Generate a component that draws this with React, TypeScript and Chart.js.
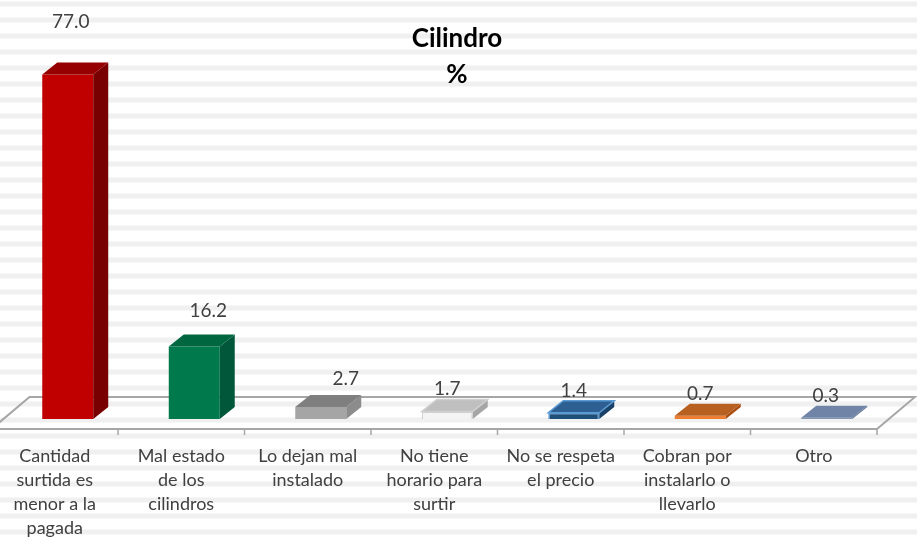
import React, { useEffect, useRef } from "react";
import { Chart, registerables } from "chart.js";

Chart.register(...registerables);

// ---- data ----
const categories: string[][] = [
  ["Cantidad", "surtida es", "menor a la", "pagada"],
  ["Mal estado", "de los", "cilindros"],
  ["Lo dejan mal", "instalado"],
  ["No tiene", "horario para", "surtir"],
  ["No se respeta", "el precio"],
  ["Cobran por", "instalarlo o", "llevarlo"],
  ["Otro"],
];
const values: number[] = [77.0, 16.2, 2.7, 1.7, 1.4, 0.7, 0.3];
const titleLines: string[] = ["Cilindro", "%"];

// ---- styles ----
const frontColors = ["#C00000", "#007A4D", "#A5A5A5", "#F4F4F4", "#1F4E79", "#ED7D31", "#8497B0"];
const topColors = ["#960000", "#006640", "#7F7F7F", "#BFBFBF", "#2E5F93", "#B8601F", "#6F84A6"];
const sideColors = ["#780000", "#00573A", "#8C8C8C", "#A6A6A6", "#1A4168", "#A94B0E", "#5A6E8C"];
const edgeColors = ["", "", "", "#D0D0D0", "#5B9BD5", "", ""];
// label nudges (dx from bar centre, lift of baseline above bar front top)
const labelDx = [3, 14, 25, 0, 0, 0, -1];
const labelLift = [46, 30, 22, 16, 16, 16, 16];

const W = 917;
const H = 538;
const DEPTH_X = 15;
const DEPTH_Y = 12;
const FONT = "Lato, 'Open Sans', sans-serif";

const threeD = {
  id: "threeD",
  beforeDraw(chart: any) {
    const ctx = chart.ctx;
    ctx.save();
    ctx.fillStyle = "#ffffff";
    ctx.fillRect(0, 0, W, H);
    ctx.fillStyle = "#f0f0f0";
    for (let y = 1.5; y < H; y += 16) ctx.fillRect(0, y, W, 5);
    ctx.restore();
  },
  beforeDatasetsDraw(chart: any) {
    const ctx = chart.ctx;
    const { left, right, bottom } = chart.chartArea;
    const fy = bottom + 10;
    const by = bottom - 22;
    const fl = left - 13;
    const fr = right - 13;
    const bl = left + 25;
    const br = right + 25;
    ctx.save();
    ctx.strokeStyle = "#A6A6A6";
    ctx.lineWidth = 2;
    ctx.beginPath();
    ctx.moveTo(fl, fy);
    ctx.lineTo(fr, fy);
    ctx.lineTo(br, by);
    ctx.lineTo(bl, by);
    ctx.closePath();
    ctx.stroke();
    // ticks at category boundaries
    const xs = chart.scales.x;
    const n = categories.length;
    const step = (right - left) / n;
    ctx.lineWidth = 1.5;
    ctx.beginPath();
    for (let i = 0; i <= n; i++) {
      const x = left + i * step - 13;
      ctx.moveTo(x, fy);
      ctx.lineTo(x, fy + 6);
    }
    ctx.stroke();
    // category labels
    ctx.fillStyle = "#404040";
    ctx.font = `18px ${FONT}`;
    ctx.textAlign = "center";
    ctx.textBaseline = "alphabetic";
    categories.forEach((lines, i) => {
      const cx = xs.getPixelForValue(i) - 13;
      lines.forEach((ln, j) => ctx.fillText(ln, cx, 462 + j * 24));
    });
    ctx.restore();
  },
  afterDatasetsDraw(chart: any) {
    const ctx = chart.ctx;
    const meta = chart.getDatasetMeta(0);
    ctx.save();
    meta.data.forEach((bar: any, i: number) => {
      const { x, y, base, width } = bar.getProps(["x", "y", "base", "width"], true);
      const l = x - width / 2;
      const r = x + width / 2;
      // side
      ctx.fillStyle = sideColors[i];
      ctx.beginPath();
      ctx.moveTo(r, y);
      ctx.lineTo(r + DEPTH_X, y - DEPTH_Y);
      ctx.lineTo(r + DEPTH_X, base - DEPTH_Y);
      ctx.lineTo(r, base);
      ctx.closePath();
      ctx.fill();
      // top
      ctx.fillStyle = topColors[i];
      ctx.beginPath();
      ctx.moveTo(l, y);
      ctx.lineTo(r, y);
      ctx.lineTo(r + DEPTH_X, y - DEPTH_Y);
      ctx.lineTo(l + DEPTH_X, y - DEPTH_Y);
      ctx.closePath();
      ctx.fill();
      if (edgeColors[i]) {
        ctx.strokeStyle = edgeColors[i];
        ctx.lineWidth = 1.5;
        ctx.stroke();
      }
    });
    // value labels
    ctx.fillStyle = "#404040";
    ctx.font = `19px ${FONT}`;
    ctx.textAlign = "center";
    ctx.textBaseline = "alphabetic";
    meta.data.forEach((bar: any, i: number) => {
      const { x, y } = bar.getProps(["x", "y"], true);
      ctx.fillText(values[i].toFixed(1), x + labelDx[i], y - labelLift[i]);
    });
    // title
    ctx.fillStyle = "#000000";
    ctx.font = `bold 26px ${FONT}`;
    ctx.fillText(titleLines[0], 457, 47);
    ctx.fillText(titleLines[1], 457, 83);
    ctx.restore();
  },
};

export default function App() {
  const ref = useRef<HTMLCanvasElement | null>(null);
  useEffect(() => {
    document.body.style.margin = "0";
    const canvas = ref.current;
    if (!canvas) return;
    const chart = new Chart(canvas, {
      type: "bar",
      data: {
        labels: categories.map((c) => c.join(" ")),
        datasets: [
          {
            data: values,
            backgroundColor: frontColors,
            borderColor: edgeColors.map((c) => c || "rgba(0,0,0,0)"),
            borderWidth: edgeColors.map((c) => (c ? 1.5 : 0)),
            barPercentage: 0.403,
            categoryPercentage: 1,
          },
        ],
      },
      options: {
        responsive: false,
        animation: false,
        devicePixelRatio: 1,
        layout: { padding: { left: 4.5, right: 27, top: 61, bottom: 119 } },
        scales: {
          x: { display: false },
          y: { display: false, min: 0, max: 80 },
        },
        plugins: {
          legend: { display: false },
          tooltip: { enabled: false },
          title: { display: false },
        },
      },
      plugins: [threeD],
    });
    return () => chart.destroy();
  }, []);
  return (
    <div style={{ position: "absolute", left: 0, top: 0, width: W, height: H }}>
      <canvas ref={ref} width={W} height={H} />
    </div>
  );
}
